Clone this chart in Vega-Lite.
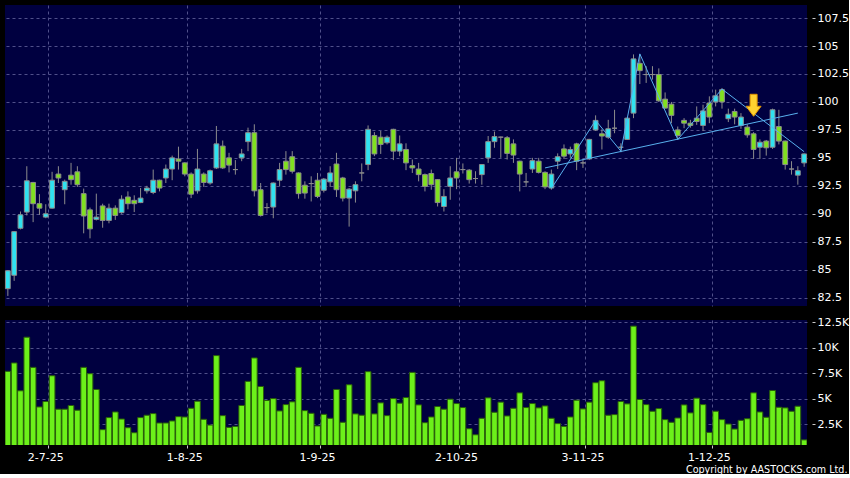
{
  "$schema": "https://vega.github.io/schema/vega-lite/v6.json",
  "background": "#000000",
  "padding": {"left": 4, "top": 5, "right": 0, "bottom": 0},
  "spacing": 10,
  "config": {
    "view": {"stroke": null, "fill": "#000040"},
    "axis": {"labelColor": "#ffffff", "labelFont": "DejaVu Sans", "labelFontSize": 11, "tickColor": "#c8c8c8", "gridColor": "#50508a", "gridDash": [3, 3], "gridWidth": 1, "domain": false, "title": null, "labelOverlap": false}
  },
  "resolve": {"scale": {"x": "shared"}},
  "datasets": {
    "candles": [
      {"d":"2025-06-23","o":83.3,"h":84.95,"l":82.65,"c":84.9,"v":7680},
      {"d":"2025-06-24","o":84.5,"h":88.45,"l":84.0,"c":88.4,"v":8500},
      {"d":"2025-06-25","o":88.7,"h":90.2,"l":88.6,"c":89.9,"v":5780},
      {"d":"2025-06-26","o":90.15,"h":94.25,"l":89.85,"c":92.95,"v":11020},
      {"d":"2025-06-27","o":92.8,"h":92.85,"l":89.25,"c":90.9,"v":8070},
      {"d":"2025-06-30","o":90.9,"h":91.75,"l":89.9,"c":90.5,"v":4200},
      {"d":"2025-07-02","o":89.7,"h":90.85,"l":89.6,"c":90.0,"v":4730},
      {"d":"2025-07-03","o":90.5,"h":93.75,"l":90.45,"c":93.0,"v":7250},
      {"d":"2025-07-04","o":93.55,"h":94.25,"l":92.75,"c":93.2,"v":3980},
      {"d":"2025-07-07","o":92.15,"h":93.05,"l":90.85,"c":92.9,"v":3980},
      {"d":"2025-07-08","o":93.45,"h":94.55,"l":92.6,"c":93.05,"v":4340},
      {"d":"2025-07-09","o":93.75,"h":94.25,"l":92.4,"c":92.6,"v":3880},
      {"d":"2025-07-10","o":91.8,"h":92.25,"l":88.25,"c":89.8,"v":8070},
      {"d":"2025-07-11","o":90.35,"h":90.55,"l":87.8,"c":88.65,"v":7450},
      {"d":"2025-07-14","o":89.5,"h":91.8,"l":89.4,"c":89.7,"v":5910},
      {"d":"2025-07-15","o":90.7,"h":90.9,"l":88.75,"c":89.4,"v":1980},
      {"d":"2025-07-16","o":89.4,"h":90.9,"l":89.15,"c":90.5,"v":3160},
      {"d":"2025-07-17","o":90.5,"h":90.75,"l":89.45,"c":89.85,"v":3710},
      {"d":"2025-07-18","o":90.1,"h":91.65,"l":90.0,"c":91.3,"v":3020},
      {"d":"2025-07-21","o":91.5,"h":92.0,"l":90.4,"c":90.9,"v":2170},
      {"d":"2025-07-22","o":91.2,"h":91.65,"l":90.15,"c":90.9,"v":1680},
      {"d":"2025-07-23","o":91.0,"h":92.3,"l":90.95,"c":91.4,"v":3160},
      {"d":"2025-07-24","o":92.05,"h":92.5,"l":91.8,"c":92.3,"v":3390},
      {"d":"2025-07-25","o":91.9,"h":93.95,"l":91.75,"c":93.0,"v":3550},
      {"d":"2025-07-28","o":93.0,"h":93.05,"l":92.0,"c":92.3,"v":2630},
      {"d":"2025-07-29","o":93.2,"h":94.4,"l":92.75,"c":94.0,"v":2630},
      {"d":"2025-07-30","o":94.0,"h":95.2,"l":93.0,"c":95.0,"v":2830},
      {"d":"2025-07-31","o":94.9,"h":96.0,"l":93.95,"c":94.7,"v":3250},
      {"d":"2025-08-01","o":94.55,"h":94.6,"l":93.35,"c":93.55,"v":3220},
      {"d":"2025-08-04","o":93.55,"h":93.7,"l":91.4,"c":91.75,"v":4070},
      {"d":"2025-08-05","o":92.05,"h":95.8,"l":91.8,"c":94.0,"v":4760},
      {"d":"2025-08-06","o":93.55,"h":93.7,"l":92.4,"c":92.8,"v":2990},
      {"d":"2025-08-07","o":92.75,"h":93.95,"l":92.6,"c":93.85,"v":2430},
      {"d":"2025-08-08","o":94.1,"h":97.85,"l":94.0,"c":96.25,"v":9220},
      {"d":"2025-08-11","o":96.05,"h":96.55,"l":94.0,"c":94.1,"v":3350},
      {"d":"2025-08-12","o":95.0,"h":95.45,"l":93.7,"c":94.35,"v":2200},
      {"d":"2025-08-13","o":93.95,"h":94.8,"l":93.5,"c":93.95,"v":2300},
      {"d":"2025-08-14","o":95.0,"h":95.8,"l":94.7,"c":95.35,"v":4340},
      {"d":"2025-08-15","o":96.45,"h":97.7,"l":95.6,"c":97.25,"v":6700},
      {"d":"2025-08-18","o":97.25,"h":98.0,"l":91.55,"c":92.05,"v":8990},
      {"d":"2025-08-19","o":92.15,"h":92.75,"l":89.75,"c":89.85,"v":6200},
      {"d":"2025-08-20","o":90.55,"h":90.95,"l":90.05,"c":90.55,"v":4830},
      {"d":"2025-08-21","o":90.6,"h":92.8,"l":89.6,"c":92.75,"v":5020},
      {"d":"2025-08-22","o":93.0,"h":94.55,"l":92.45,"c":93.95,"v":3810},
      {"d":"2025-08-25","o":94.7,"h":95.6,"l":93.5,"c":93.95,"v":4430},
      {"d":"2025-08-26","o":95.1,"h":95.6,"l":93.6,"c":93.8,"v":4700},
      {"d":"2025-08-27","o":93.65,"h":93.7,"l":91.35,"c":91.8,"v":8070},
      {"d":"2025-08-28","o":92.55,"h":92.9,"l":91.35,"c":91.85,"v":3840},
      {"d":"2025-08-29","o":92.7,"h":93.35,"l":91.1,"c":92.7,"v":3580},
      {"d":"2025-09-01","o":93.0,"h":93.65,"l":91.4,"c":91.55,"v":2340},
      {"d":"2025-09-02","o":92.1,"h":93.2,"l":91.9,"c":93.1,"v":3480},
      {"d":"2025-09-03","o":92.85,"h":94.25,"l":92.4,"c":93.65,"v":3090},
      {"d":"2025-09-04","o":94.45,"h":95.45,"l":91.5,"c":92.15,"v":5910},
      {"d":"2025-09-05","o":93.2,"h":93.3,"l":91.1,"c":91.4,"v":2700},
      {"d":"2025-09-08","o":91.4,"h":92.3,"l":88.85,"c":92.2,"v":6370},
      {"d":"2025-09-09","o":92.05,"h":92.9,"l":91.0,"c":92.6,"v":3520},
      {"d":"2025-09-10","o":93.65,"h":94.5,"l":92.9,"c":93.65,"v":3390},
      {"d":"2025-09-11","o":94.4,"h":97.9,"l":93.9,"c":97.55,"v":7650},
      {"d":"2025-09-12","o":97.0,"h":97.3,"l":95.15,"c":95.35,"v":3520},
      {"d":"2025-09-15","o":96.85,"h":97.4,"l":95.35,"c":96.2,"v":4600},
      {"d":"2025-09-16","o":96.35,"h":97.0,"l":96.2,"c":96.85,"v":3350},
      {"d":"2025-09-17","o":97.55,"h":97.6,"l":94.8,"c":95.6,"v":5020},
      {"d":"2025-09-18","o":95.6,"h":97.0,"l":95.15,"c":96.25,"v":4570},
      {"d":"2025-09-19","o":95.75,"h":96.3,"l":93.9,"c":94.55,"v":5120},
      {"d":"2025-09-22","o":94.3,"h":94.85,"l":93.65,"c":94.1,"v":7580},
      {"d":"2025-09-23","o":94.0,"h":94.55,"l":92.9,"c":93.5,"v":4400},
      {"d":"2025-09-24","o":93.5,"h":93.6,"l":92.0,"c":92.45,"v":2660},
      {"d":"2025-09-25","o":93.6,"h":93.95,"l":92.15,"c":92.6,"v":3220},
      {"d":"2025-09-26","o":93.05,"h":93.1,"l":90.65,"c":91.0,"v":4240},
      {"d":"2025-09-29","o":90.65,"h":92.2,"l":90.2,"c":91.55,"v":3980},
      {"d":"2025-09-30","o":92.45,"h":94.25,"l":91.25,"c":93.2,"v":4960},
      {"d":"2025-10-02","o":93.75,"h":95.0,"l":92.2,"c":93.2,"v":4530},
      {"d":"2025-10-03","o":93.95,"h":94.5,"l":93.6,"c":93.95,"v":4140},
      {"d":"2025-10-06","o":93.9,"h":94.0,"l":92.7,"c":93.05,"v":2070},
      {"d":"2025-10-08","o":93.15,"h":93.8,"l":92.7,"c":93.15,"v":1480},
      {"d":"2025-10-09","o":93.5,"h":94.4,"l":92.6,"c":94.4,"v":3090},
      {"d":"2025-10-10","o":95.0,"h":96.95,"l":94.55,"c":96.45,"v":5090},
      {"d":"2025-10-13","o":96.45,"h":97.35,"l":95.9,"c":96.9,"v":3680},
      {"d":"2025-10-14","o":96.85,"h":96.9,"l":95.0,"c":96.85,"v":4670},
      {"d":"2025-10-15","o":96.8,"h":96.95,"l":94.85,"c":95.4,"v":3320},
      {"d":"2025-10-16","o":96.25,"h":96.65,"l":94.55,"c":95.25,"v":4070},
      {"d":"2025-10-17","o":94.7,"h":94.75,"l":92.0,"c":93.55,"v":5580},
      {"d":"2025-10-20","o":92.85,"h":93.65,"l":92.4,"c":92.85,"v":4140},
      {"d":"2025-10-21","o":94.0,"h":95.0,"l":93.65,"c":94.75,"v":4530},
      {"d":"2025-10-22","o":94.7,"h":95.0,"l":93.6,"c":93.7,"v":4110},
      {"d":"2025-10-23","o":93.7,"h":93.8,"l":92.2,"c":92.4,"v":4300},
      {"d":"2025-10-24","o":92.3,"h":93.95,"l":92.15,"c":93.55,"v":3090},
      {"d":"2025-10-27","o":94.7,"h":95.4,"l":94.0,"c":95.1,"v":2570},
      {"d":"2025-10-28","o":95.8,"h":96.2,"l":94.9,"c":95.15,"v":2300},
      {"d":"2025-10-30","o":95.35,"h":96.0,"l":95.0,"c":95.75,"v":3220},
      {"d":"2025-10-31","o":96.25,"h":96.35,"l":93.9,"c":94.7,"v":4860},
      {"d":"2025-11-03","o":94.55,"h":94.9,"l":94.1,"c":94.55,"v":4010},
      {"d":"2025-11-04","o":94.9,"h":96.7,"l":94.8,"c":96.65,"v":4670},
      {"d":"2025-11-05","o":97.5,"h":98.8,"l":97.4,"c":98.35,"v":6570},
      {"d":"2025-11-06","o":97.15,"h":97.55,"l":95.75,"c":96.95,"v":6760},
      {"d":"2025-11-07","o":96.85,"h":98.4,"l":96.7,"c":97.6,"v":3390},
      {"d":"2025-11-10","o":97.65,"h":99.3,"l":97.2,"c":97.65,"v":3450},
      {"d":"2025-11-11","o":95.95,"h":96.3,"l":95.5,"c":95.95,"v":4730},
      {"d":"2025-11-12","o":96.65,"h":98.6,"l":96.6,"c":98.55,"v":4500},
      {"d":"2025-11-13","o":99.0,"h":104.25,"l":98.55,"c":103.85,"v":12100},
      {"d":"2025-11-14","o":103.45,"h":104.25,"l":101.6,"c":102.8,"v":4930},
      {"d":"2025-11-17","o":102.45,"h":103.2,"l":101.7,"c":102.45,"v":4430},
      {"d":"2025-11-18","o":102.45,"h":103.2,"l":102.0,"c":102.45,"v":3780},
      {"d":"2025-11-19","o":102.45,"h":103.0,"l":100.0,"c":100.1,"v":4040},
      {"d":"2025-11-20","o":100.25,"h":100.85,"l":99.4,"c":99.45,"v":2960},
      {"d":"2025-11-21","o":99.8,"h":100.0,"l":98.1,"c":98.8,"v":2700},
      {"d":"2025-11-24","o":97.5,"h":97.8,"l":96.6,"c":97.0,"v":3120},
      {"d":"2025-11-25","o":98.35,"h":98.55,"l":97.65,"c":98.1,"v":4400},
      {"d":"2025-11-26","o":98.1,"h":98.4,"l":97.7,"c":97.9,"v":3620},
      {"d":"2025-11-27","o":98.55,"h":99.6,"l":97.95,"c":98.25,"v":5060},
      {"d":"2025-11-28","o":97.9,"h":99.75,"l":97.4,"c":99.2,"v":4430},
      {"d":"2025-12-01","o":99.9,"h":100.5,"l":98.1,"c":98.65,"v":1710},
      {"d":"2025-12-02","o":100.0,"h":101.1,"l":99.6,"c":100.55,"v":3780},
      {"d":"2025-12-03","o":101.1,"h":101.25,"l":99.4,"c":100.0,"v":2960},
      {"d":"2025-12-04","o":98.5,"h":99.4,"l":98.2,"c":98.9,"v":2530},
      {"d":"2025-12-05","o":99.15,"h":99.4,"l":98.0,"c":98.65,"v":2040},
      {"d":"2025-12-08","o":97.9,"h":99.0,"l":97.6,"c":98.65,"v":2890},
      {"d":"2025-12-09","o":97.75,"h":98.0,"l":96.8,"c":97.05,"v":3050},
      {"d":"2025-12-10","o":97.15,"h":97.3,"l":94.9,"c":95.75,"v":5580},
      {"d":"2025-12-11","o":95.95,"h":96.65,"l":94.9,"c":96.4,"v":3710},
      {"d":"2025-12-12","o":96.5,"h":96.6,"l":95.2,"c":95.9,"v":3190},
      {"d":"2025-12-15","o":95.95,"h":99.4,"l":95.8,"c":99.3,"v":5810},
      {"d":"2025-12-16","o":97.8,"h":99.3,"l":96.2,"c":96.5,"v":4170},
      {"d":"2025-12-17","o":96.5,"h":96.55,"l":93.95,"c":94.4,"v":4110},
      {"d":"2025-12-18","o":94.0,"h":94.7,"l":93.5,"c":94.0,"v":3780},
      {"d":"2025-12-19","o":93.45,"h":94.25,"l":92.6,"c":93.85,"v":4270},
      {"d":"2025-12-22","o":94.55,"h":95.4,"l":94.2,"c":95.35,"v":980}
    ],
    "zig": [
      {"d":"2025-10-24","p":92.25},
      {"d":"2025-11-05","p":98.35},
      {"d":"2025-11-11","p":95.6},
      {"d":"2025-11-14","p":104.3},
      {"d":"2025-11-24","p":96.65},
      {"d":"2025-12-03","p":101.15},
      {"d":"2025-12-22","p":95.55}
    ],
    "neck": [
      {"d":"2025-10-23","p":94.1},
      {"d":"2025-12-19","p":99.0}
    ],
    "arrow": [
      {"d":"2025-12-10","p":99.7}
    ]
  },
  "vconcat": [
    {
      "width": 802,
      "height": 301,
      "layer": [
        {
          "data": {"name": "candles"},
          "mark": {"type": "rule", "color": "#8c8c8c", "strokeWidth": 1},
          "encoding": {
            "x": {"field": "d", "type": "ordinal", "scale": {"paddingInner": 0.1, "paddingOuter": 0},
                  "axis": {"values": ["2025-07-02","2025-08-01","2025-09-01","2025-10-02","2025-11-03","2025-12-01"], "bandPosition": 1, "labels": false, "ticks": false, "grid": true}},
            "y": {"field": "l", "type": "quantitative", "scale": {"domain": [81.75, 108.67], "nice": false, "zero": false},
                  "axis": {"orient": "right", "values": [82.5, 85, 87.5, 90, 92.5, 95, 97.5, 100, 102.5, 105, 107.5], "labelExpr": "format(datum.value, '.1~f')", "offset": 5, "tickSize": 3, "labelPadding": 2, "grid": true}},
            "y2": {"field": "h"}
          }
        },
        {
          "data": {"name": "candles"},
          "mark": {"type": "bar", "width": 4.8, "stroke": "#8c8c8c", "strokeWidth": 1},
          "encoding": {
            "x": {"field": "d", "type": "ordinal",
                  "axis": {"values": ["2025-07-02","2025-08-01","2025-09-01","2025-10-02","2025-11-03","2025-12-01"], "bandPosition": 1, "labels": false, "ticks": false, "grid": true}},
            "y": {"field": "o", "type": "quantitative",
                  "axis": {"orient": "right", "values": [82.5, 85, 87.5, 90, 92.5, 95, 97.5, 100, 102.5, 105, 107.5], "labelExpr": "format(datum.value, '.1~f')", "offset": 5, "tickSize": 3, "labelPadding": 2, "grid": true}},
            "y2": {"field": "c"},
            "fill": {"condition": {"test": "datum.c > datum.o", "value": "#30e2f0"}, "value": "#80e020"}
          }
        },
        {
          "data": {"name": "neck"},
          "mark": {"type": "line", "color": "#58b0ee", "strokeWidth": 1},
          "encoding": {
            "x": {"field": "d", "type": "ordinal",
                  "axis": {"values": ["2025-07-02","2025-08-01","2025-09-01","2025-10-02","2025-11-03","2025-12-01"], "bandPosition": 1, "labels": false, "ticks": false, "grid": true}},
            "y": {"field": "p", "type": "quantitative",
                  "axis": {"orient": "right", "values": [82.5, 85, 87.5, 90, 92.5, 95, 97.5, 100, 102.5, 105, 107.5], "labelExpr": "format(datum.value, '.1~f')", "offset": 5, "tickSize": 3, "labelPadding": 2, "grid": true}}
          }
        },
        {
          "data": {"name": "zig"},
          "mark": {"type": "line", "color": "#58b0ee", "strokeWidth": 1},
          "encoding": {
            "x": {"field": "d", "type": "ordinal",
                  "axis": {"values": ["2025-07-02","2025-08-01","2025-09-01","2025-10-02","2025-11-03","2025-12-01"], "bandPosition": 1, "labels": false, "ticks": false, "grid": true}},
            "y": {"field": "p", "type": "quantitative",
                  "axis": {"orient": "right", "values": [82.5, 85, 87.5, 90, 92.5, 95, 97.5, 100, 102.5, 105, 107.5], "labelExpr": "format(datum.value, '.1~f')", "offset": 5, "tickSize": 3, "labelPadding": 2, "grid": true}}
          }
        },
        {
          "data": {"name": "arrow"},
          "mark": {"type": "point", "shape": "M -0.32 -1 L 0.32 -1 L 0.32 0.09 L 0.68 0.09 L 0 1 L -0.68 0.09 L -0.32 0.09 Z", "size": 484, "filled": true, "fill": "#ffd230", "stroke": "#e09400", "strokeWidth": 1, "opacity": 1, "dx": 3},
          "encoding": {
            "x": {"field": "d", "type": "ordinal",
                  "axis": {"values": ["2025-07-02","2025-08-01","2025-09-01","2025-10-02","2025-11-03","2025-12-01"], "bandPosition": 1, "labels": false, "ticks": false, "grid": true}},
            "y": {"field": "p", "type": "quantitative",
                  "axis": {"orient": "right", "values": [82.5, 85, 87.5, 90, 92.5, 95, 97.5, 100, 102.5, 105, 107.5], "labelExpr": "format(datum.value, '.1~f')", "offset": 5, "tickSize": 3, "labelPadding": 2, "grid": true}}
          }
        }
      ]
    },
    {
      "width": 802,
      "height": 125,
      "data": {"name": "candles"},
      "mark": {"type": "bar", "fill": "#6cf01a", "stroke": "#2a5e0a", "strokeWidth": 1, "clip": true},
      "encoding": {
        "x": {"field": "d", "type": "ordinal", "scale": {"paddingInner": 0.1, "paddingOuter": 0},
              "axis": {"values": ["2025-07-02","2025-08-01","2025-09-01","2025-10-02","2025-11-03","2025-12-01"],
                       "labelExpr": "toNumber(substring(datum.value,8,10)) + '-' + toNumber(substring(datum.value,5,7)) + '-' + substring(datum.value,2,4)",
                       "bandPosition": 1, "grid": true, "ticks": true, "tickSize": 3, "labelPadding": 3, "labelAngle": 0,
                       "title": "Copyright by AASTOCKS.com Ltd.", "titleColor": "#ffffff", "titleFont": "DejaVu Sans", "titleFontSize": 9.6, "titleFontWeight": "normal",
                       "titleAlign": "right", "titleAnchor": "end", "titleX": 842, "titlePadding": 2}},
        "y": {"field": "v", "type": "quantitative", "scale": {"domain": [480, 12700], "nice": false},
              "axis": {"orient": "right", "values": [2500, 5000, 7500, 10000, 12500], "labelExpr": "(datum.value / 1000) + 'K'", "offset": 5, "tickSize": 3, "labelPadding": 2, "grid": true}}
      }
    }
  ]
}
